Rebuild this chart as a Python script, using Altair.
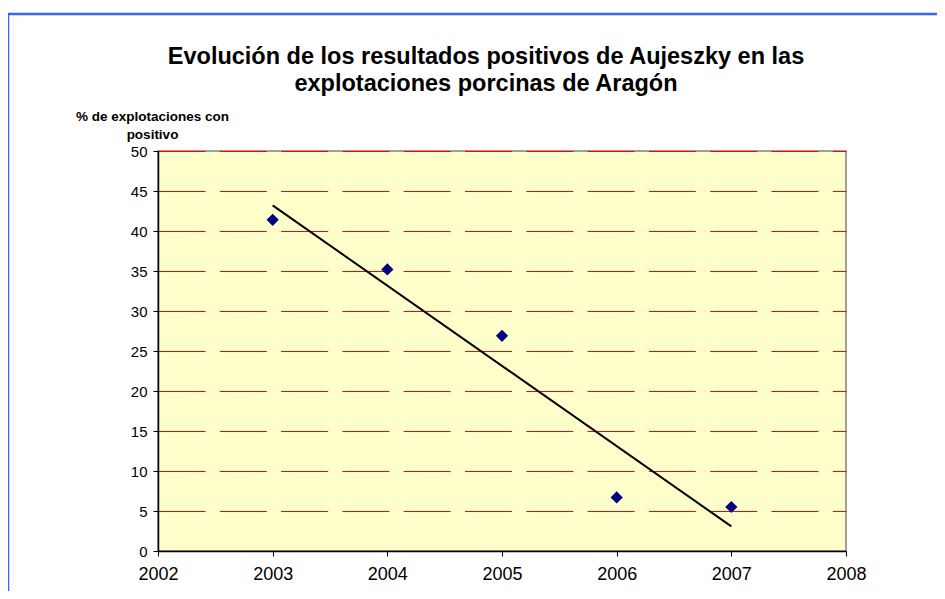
import altair as alt
import pandas as pd

years = [2003, 2004, 2005, 2006, 2007]
pct = [41.4, 35.2, 26.9, 6.7, 5.5]
x_ticks = [2002, 2003, 2004, 2005, 2006, 2007, 2008]
y_ticks = [0, 5, 10, 15, 20, 25, 30, 35, 40, 45, 50]

title_lines = ["Evolución de los resultados positivos de Aujeszky en las",
               "explotaciones porcinas de Aragón"]
y_title = ["% de explotaciones con", "positivo"]

df = pd.DataFrame({"year": years, "pct": pct})
FONT = "Liberation Sans"

x_scale = alt.Scale(domain=[2002, 2008], nice=False, zero=False)
y_scale = alt.Scale(domain=[0, 50], nice=False)

x_enc = alt.X("year:Q", scale=x_scale,
              axis=alt.Axis(values=x_ticks, format="d", title=None, grid=False,
                            domainColor="black", domainWidth=1.5,
                            tickColor="black", tickSize=5,
                            labelFontSize=18, labelFont=FONT, labelColor="black",
                            labelPadding=9, labelOverlap=False, labelFlush=False))
y_enc = alt.Y("pct:Q", scale=y_scale,
              axis=alt.Axis(values=y_ticks, title=y_title, grid=True,
                            gridColor="#FF0000", gridWidth=1, gridDash=[47, 14.3],
                            domainColor="black", domainWidth=1.5,
                            tickColor="black", tickSize=5,
                            labelFontSize=15, labelFont=FONT, labelColor="black",
                            labelPadding=6, labelOverlap=False, labelFlush=False,
                            titleAngle=0, titleAlign="center", titleBaseline="alphabetic",
                            titleX=-6, titleY=-31, titleFont=FONT, titleFontSize=13.5,
                            titleFontWeight="bold", titleLineHeight=18,
                            titleColor="black"))

frame = alt.Chart(pd.DataFrame({"k": [0]})).mark_rect(
    fill="transparent", stroke="#3366FF", strokeWidth=2.5, clip=False
).encode(x=alt.value(-150), x2=alt.value(900), y=alt.value(-137), y2=alt.value(500))

points = alt.Chart(df).mark_point(
    shape="diamond", filled=True, color="#000080", size=150, opacity=1
).encode(x=x_enc, y=y_enc)

trend = alt.Chart(df).transform_regression("year", "pct").mark_line(
    color="black", strokeWidth=2
).encode(x=x_enc, y=y_enc)

chart = alt.layer(trend, points, frame).properties(
    width=688, height=400,
    background="white",
    autosize=alt.AutoSizeParams(type="none"),
    padding={"left": 150, "top": 143, "right": 91, "bottom": 40},
    title=alt.Title(text=title_lines, font=FONT, fontSize=23.5, fontWeight="bold",
                    color="black", anchor="middle", dx=-16, dy=87, lineHeight=27,
                    frame="group"),
).configure_view(
    fill="#FFFFCC", stroke="#808080", strokeWidth=1.5
)

chart.save("out.html", embed_options={"renderer": "svg", "actions": False})
